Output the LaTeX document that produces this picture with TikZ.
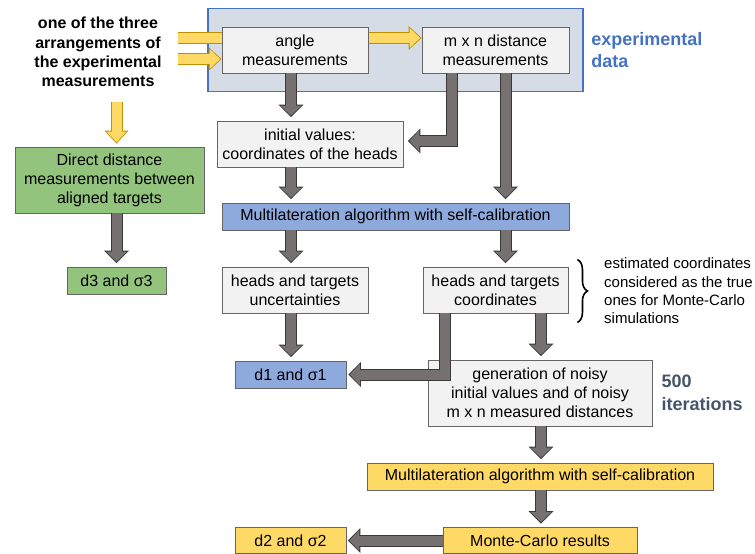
\documentclass[tikz,border=0pt]{standalone}
\usepackage{fontspec}
\setmainfont{Liberation Sans}
\usetikzlibrary{positioning, fit, backgrounds, arrows.meta, decorations.pathreplacing}

\definecolor{expfill}{HTML}{D6DCE5}
\definecolor{expline}{HTML}{4472C4}
\definecolor{boxline}{HTML}{666666}
\definecolor{boxgray}{HTML}{F2F2F2}
\definecolor{boxgreen}{HTML}{93C47D}
\definecolor{boxblue}{HTML}{8EA9DB}
\definecolor{boxyellow}{HTML}{FFD966}
\definecolor{arrowgray}{HTML}{767171}
\definecolor{arrowdark}{HTML}{3B3838}
\definecolor{arrowgold}{HTML}{BF9000}
\definecolor{textblue}{HTML}{4472C4}
\definecolor{textslate}{HTML}{44546A}

\begin{document}
\begin{tikzpicture}[x=1pt, y=-1pt,
		box/.style={rectangle, draw=boxline, line width=0.9pt, inner sep=0pt, align=center, font=\fontsize{16}{19}\selectfont},
		graybox/.style={box, fill=boxgray},
		greenbox/.style={box, fill=boxgreen},
		bluebox/.style={box, fill=boxblue},
		yellowbox/.style={box, fill=boxyellow},
		textb/.style={inner sep=0pt, align=center},
		garrow/.style={preaction={draw=arrowdark, line width=12pt, line join=miter, shorten >=#1, -{Triangle[width=25pt, length=12.5pt, line width=0pt]}},
			draw=arrowgray, line width=10pt, line join=miter, shorten >=#1+1.4pt, -{Triangle[width=21pt, length=10pt, line width=0pt]}},
		garrow/.default=3.5pt,
		yarrow/.style={preaction={draw=arrowgold, line width=12pt, line join=miter, shorten >=#1, -{Triangle[width=24pt, length=13pt, line width=0pt]}},
			draw=boxyellow, line width=10pt, line join=miter, shorten >=#1+1.4pt, -{Triangle[width=20pt, length=10.5pt, line width=0pt]}},
		yarrow/.default=0pt
	]

	\useasboundingbox (0,0) rectangle (755,554);

	% arrow columns
	\coordinate (c0) at (116.5,0);
	\coordinate (c1) at (291,0);
	\coordinate (c2) at (505.5,0);
	\coordinate (c3) at (451.5,0);
	\coordinate (c4) at (445,0);
	\coordinate (c5) at (541,0);

	\node[textb, font=\fontsize{16}{19.3}\selectfont\bfseries] (arrange) at (98,52) {one of the three\\arrangements of\\the experimental\\measurements};

	\node[graybox, minimum width=146pt, minimum height=46pt] (angle) at (295,50) {angle\\measurements};
	\node[graybox, minimum width=147pt, minimum height=46pt] (mxn) at (495.5,50) {m x n distance\\measurements};

	\begin{scope}[on background layer]
		\node[fit=(angle)(mxn), draw=expline, fill=expfill, line width=1.3pt, inner xsep=13.5pt, inner ysep=18pt] (expbox) {};
		\coordinate (yin1) at (178,38);
		\coordinate (yin2) at (178,59);
		\draw[yarrow] (yin1) -- (yin1 -| mxn.west);
		\draw[yarrow] (yin2) -- (yin2 -| angle.west);
	\end{scope}

	\node[textb, anchor=west, align=left, right=7.5pt of expbox, font=\fontsize{18}{22}\selectfont\bfseries, text=textblue] (exptext) {experimental\\data};

	\node[greenbox, minimum width=189pt, minimum height=66pt] (direct) at (109.5,180) {Direct distance\\measurements between\\aligned targets};
	\node[greenbox, minimum width=99pt, minimum height=27pt] (d3) at (116.5,280.5) {d3 and σ3};

	\node[graybox, minimum width=186pt, minimum height=46pt] (init) at (310,144) {initial values:\\coordinates of the heads};
	\node[bluebox, minimum width=347pt, minimum height=27pt] (mlat) at (395.5,216.5) {Multilateration algorithm with self-calibration};
	\node[graybox, minimum width=146pt, minimum height=46pt] (unc) at (295,290) {heads and targets\\uncertainties};
	\node[graybox, minimum width=145pt, minimum height=46pt] (coords) at (495.5,290) {heads and targets\\coordinates};
	\node[bluebox, minimum width=111pt, minimum height=27pt] (d1) at (290.5,374.5) {d1 and σ1};
	\node[graybox, minimum width=224pt, minimum height=66pt] (gen) at (540,393) {generation of noisy\\initial values and of noisy\\m x n measured distances};
	\node[yellowbox, minimum width=346pt, minimum height=27pt] (mlat2) at (540,476.5) {Multilateration algorithm with self-calibration};
	\node[yellowbox, minimum width=194pt, minimum height=26pt] (mc) at (540,540.5) {Monte-Carlo results};
	\node[yellowbox, minimum width=111pt, minimum height=26pt] (d2) at (d1 |- mc) {d2 and σ2};

	\node[textb, anchor=west, align=left, right=9pt of gen, font=\fontsize{18}{23}\selectfont\bfseries, text=textslate] (iter) {500\\iterations};

	\draw[decorate, decoration={brace, amplitude=10pt}, line width=1.6pt] ([xshift=9pt, yshift=7pt]coords.north east) coordinate (brtop) -- ([xshift=9pt, yshift=-9pt]coords.south east) coordinate (brbot);
	\node[textb, anchor=west, align=left, font=\fontsize{15}{18.3}\selectfont] (brtext) at (604,291) {estimated coordinates\\considered as the true\\ones for Monte-Carlo\\simulations};

	\coordinate (ystart) at (116.5,102);
	\draw[yarrow=3pt] (ystart) -- (ystart |- direct.north);

	\foreach \i/\j/\c in {angle/init/c1, init/mlat/c1, mxn/mlat/c2, mlat/unc/c1, mlat/coords/c2, unc/d1/c1, coords/gen/c5, gen/mlat2/c5, mlat2/mc/c5, direct/d3/c0}
		\draw[garrow] (\i.south -| \c) -- (\j.north -| \c);

	\draw[garrow=4.5pt] (mxn.south -| c3) |- ([yshift=3pt]init.east);
	\draw[garrow=2pt] (coords.south -| c4) |- (d1.east);
	\draw[garrow=1.5pt] (mc.west) -- (d2.east);

\end{tikzpicture}
\end{document}
